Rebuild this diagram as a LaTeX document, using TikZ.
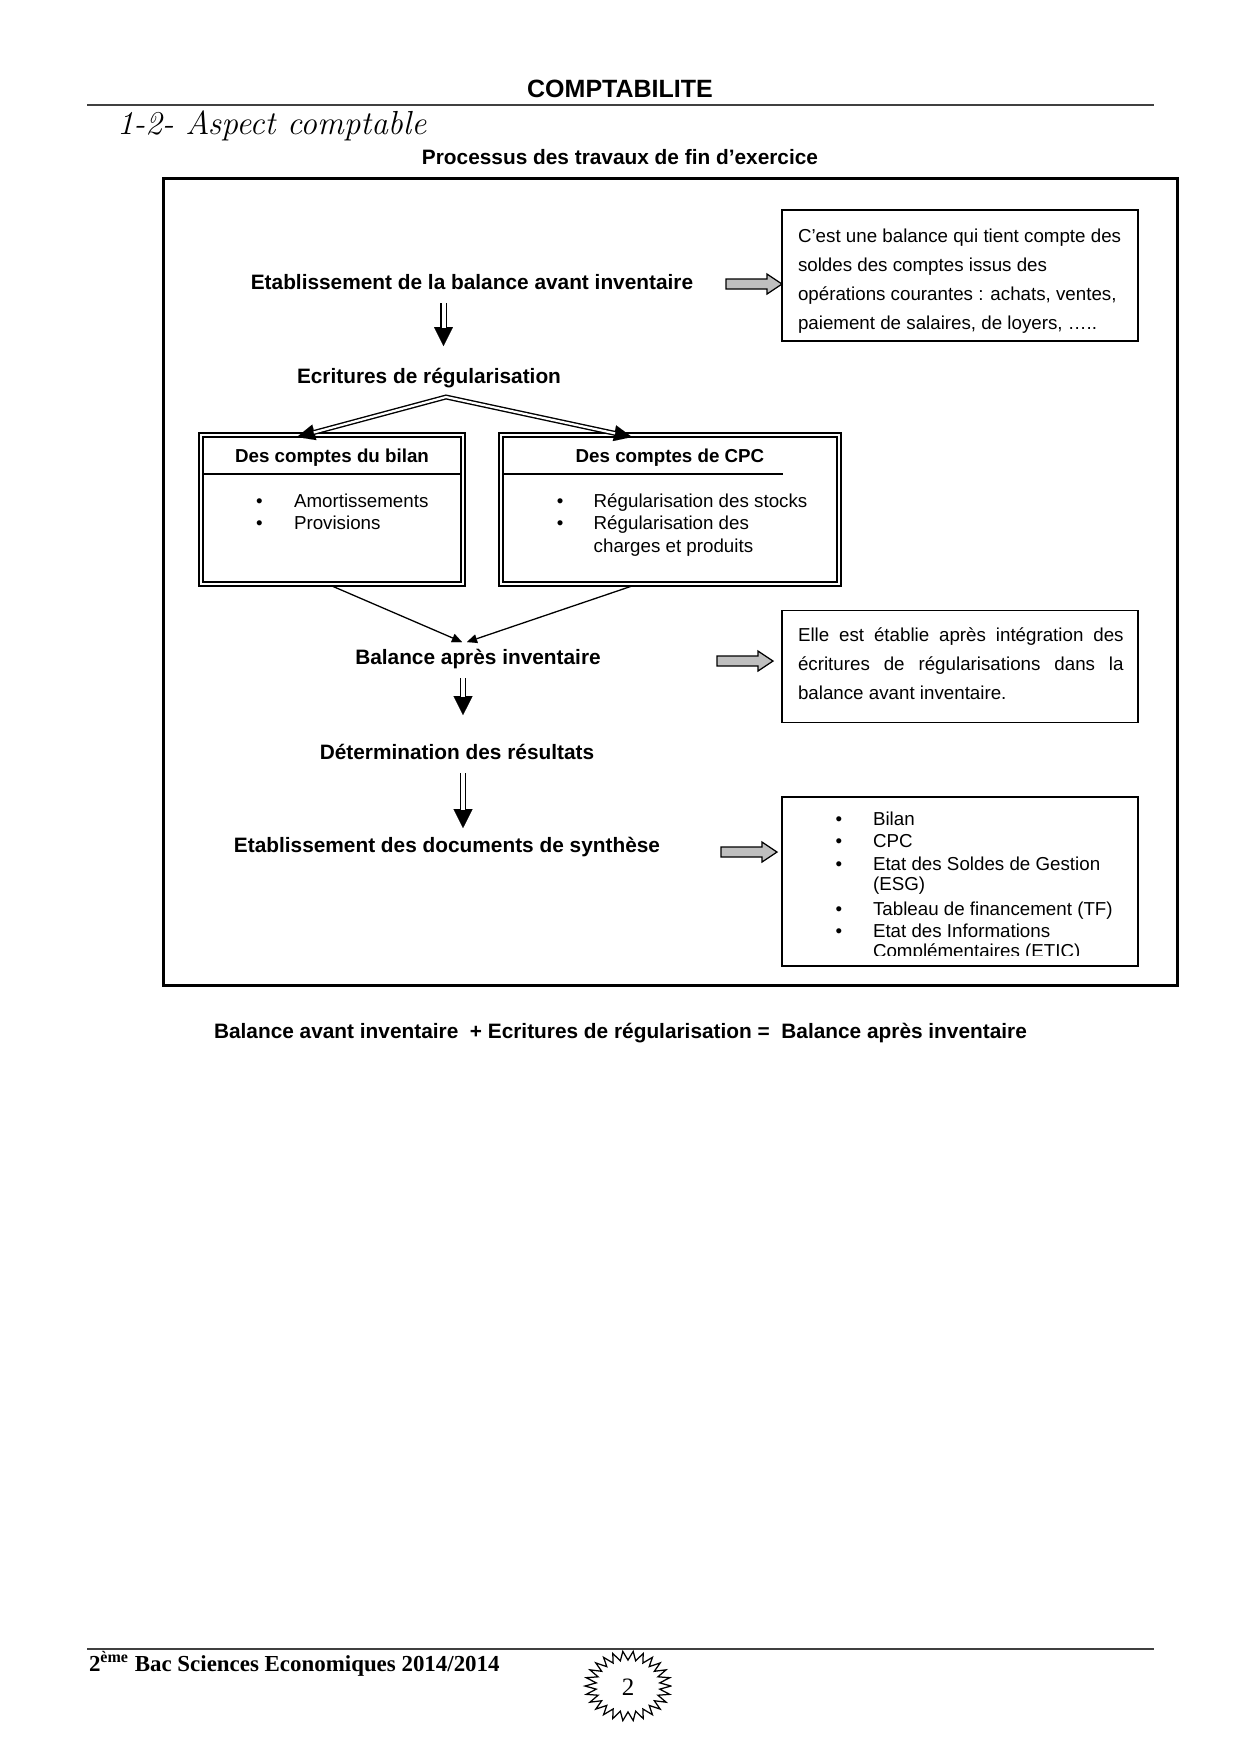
\documentclass[tikz,border=0pt]{standalone}
\usepackage{fontspec}
\usepackage{graphicx}
\newfontfamily\arial{Liberation Sans}
\newfontfamily\tnr{Liberation Serif}
\usetikzlibrary{arrows.meta,fit,calc}
\begin{document}
\begin{tikzpicture}[x=0.48pt,y=-0.48pt,
  every node/.style={inner sep=0pt,outer sep=0pt},
  lbl/.style={font=\arial\bfseries\fontsize{10}{12}\selectfont,anchor=base},
  hdr/.style={font=\arial\bfseries\fontsize{9}{11}\selectfont,anchor=base},
  txt/.style={font=\arial\fontsize{9}{11}\selectfont,anchor=base west},
  bul/.style={font=\arial\fontsize{9}{11}\selectfont,anchor=base},
  rulel/.style={line width=0.72pt,black!75},
  framebox/.style={draw,line width=1.44pt},
  notebox/.style={draw,line width=0.72pt},
  outerbox/.style={draw,line width=0.96pt},
  innerbox/.style={draw,line width=0.5pt},
  dstem/.style={line width=3.17pt,-{Triangle[length=9.1pt,width=9.1pt,line width=0.01pt]}},
  dstemwhite/.style={white,line width=1.92pt,shorten >=8.8pt},
  branch/.style={line width=2.4pt,line join=miter,{Triangle[length=8.6pt,width=7.7pt,line width=0.01pt]}-{Triangle[length=8.6pt,width=7.7pt,line width=0.01pt]}},
  branchwhite/.style={white,line width=1.06pt,line join=miter,shorten <=8.3pt,shorten >=8.3pt},
  thinarrow/.style={line width=0.62pt,-{Triangle[length=4.8pt,width=4.3pt,line width=0.01pt]}},
  garrow/.style={draw=black,line width=0.6pt,fill=black!25,line join=miter}
]
\useasboundingbox (0,0) rectangle (1240,1754);
\fill[white] (0,0) rectangle (1240,1754);

% ---------- header ----------
\node[font=\arial\bfseries\fontsize{12}{14}\selectfont,anchor=base] (title) at (620,97) {COMPTABILITE};
\draw[rulel] (87,105) -- (1154,105);
\node[font=\itshape\fontsize{16}{18}\selectfont,anchor=base west] (sec) at (117,134) {1-2- Aspect comptable};
\node[lbl] (proc) at (620,164) {Processus des travaux de fin d’exercice};

% ---------- frame ----------
\node[framebox,fit={(163,178) (1177,985)}] (frame) {};

% ---------- main labels ----------
\node[lbl] (bav) at (472,289) {Etablissement de la balance avant inventaire};
\node[lbl] (ecr) at (429,383) {Ecritures de régularisation};
\node[lbl] (bap) at (478,664) {Balance après inventaire};
\node[lbl] (det) at (457,759) {Détermination des résultats};
\node[lbl] (docs) at (447,852) {Etablissement des documents de synthèse};

% ---------- note boxes ----------
\node[notebox,fit={(782,210) (1138,341)}] (note1) {};
\node[txt] (n1a) at (798,242.5) {C’est une balance qui tient compte des};
\node[txt] (n1b) at (798,271.5) {soldes des comptes issus des};
\node[txt] (n1c) at (798,300.5) {opérations courantes : achats, ventes,};
\node[txt] (n1d) at (798,329.5) {paiement de salaires, de loyers, …..};

\node[notebox,fit={(782,610.5) (1138,722.5)}] (note2) {};
\node[txt] (n2a) at (798,641.5) {\makebox[156.3pt][s]{Elle est établie après intégration des}};
\node[txt] (n2b) at (798,670.5) {\makebox[156.3pt][s]{écritures de régularisations dans la}};
\node[txt] (n2c) at (798,699.5) {balance avant inventaire.};

\node[notebox,fit={(782,797) (1138,966)}] (note3) {};
\begin{scope}
\clip (783,798) rectangle (1137,955.5);
\node[bul] (b3a) at (839,825) {•};
\node[txt] (t3a) at (873,825) {Bilan};
\node[bul] (b3b) at (839,847.3) {•};
\node[txt] (t3b) at (873,847.3) {CPC};
\node[bul] (b3c) at (839,870.8) {•};
\node[txt] (t3c) at (873,870.8) {Etat des Soldes de Gestion};
\node[txt] (t3c2) at (873,890.9) {(ESG)};
\node[bul] (b3d) at (839,915.5) {•};
\node[txt] (t3d) at (873,915.5) {Tableau de financement (TF)};
\node[bul] (b3e) at (839,937) {•};
\node[txt] (t3e) at (873,937) {Etat des Informations};
\node[txt] (t3e2) at (873,957.5) {Complémentaires (ETIC)};
\end{scope}

% ---------- double-bordered boxes ----------
\node[outerbox,fit={(199,433) (465,586)}] (bil) {};
\node[innerbox,fit={(203,437) (461,582)}] (bilin) {};
\draw[line width=0.6pt] (bilin.west |- 0,474) -- (bilin.east |- 0,474);
\node[hdr] (bilh) at (332,462.5) {Des comptes du bilan};
\node[bul] (bb1) at (259.4,507.5) {•};
\node[txt] (bt1) at (294,507.5) {Amortissements};
\node[bul] (bb2) at (259.4,529.5) {•};
\node[txt] (bt2) at (294,529.5) {Provisions};

\node[outerbox,fit={(499,433) (841,586)}] (cpc) {};
\node[innerbox,fit={(503,437) (837,582)}] (cpcin) {};
\draw[line width=0.6pt] (cpcin.west |- 0,474) -- (783,474);
\node[hdr] (cpch) at (670,462.5) {Des comptes de CPC};
\node[bul] (cb1) at (560.2,507.5) {•};
\node[txt] (ct1) at (593.7,507.5) {Régularisation des stocks};
\node[bul] (cb2) at (560.2,529.5) {•};
\node[txt] (ct2) at (593.7,529.5) {Régularisation des};
\node[txt] (ct3) at (593.7,552) {charges et produits};

% ---------- connector coordinates ----------
\coordinate (a1s) at (443.5,303);
\coordinate (a1e) at (443.5,346);
\coordinate (a2s) at (463,678);
\coordinate (a2e) at (463,715);
\coordinate (a3s) at (463,773);
\coordinate (a3e) at (463,828);
\coordinate (apex) at (446,397);
\coordinate (tipBL) at (297,437);
\coordinate (tipBR) at (632,437);
\coordinate (tipL) at (462,642);
\coordinate (tipR) at (467,642);

% down double arrows
\draw[dstem] (a1s) -- (a1e);
\draw[dstemwhite] (a1s) -- (a1e);
\draw[dstem] (a2s) -- (a2e);
\draw[dstemwhite] (a2s) -- (a2e);
\draw[dstem] (a3s) -- (a3e);
\draw[dstemwhite] (a3s) -- (a3e);

% branching double arrow
\draw[branch] (tipBL) -- (apex) -- (tipBR);
\draw[branchwhite] (tipBL) -- (apex) -- (tipBR);

% converging thin arrows
\draw[thinarrow] (bil.south) -- (tipL);
\draw[thinarrow] ($(cpc.south west)!0.389!(cpc.south east)$) -- (tipR);

% gray block arrows
\coordinate (ga1) at (726,284);
\coordinate (ga2) at (717,661);
\coordinate (ga3) at (721,852);
\foreach \g in {ga1,ga2,ga3}{
  \draw[garrow] (\g) ++(0,-5) -- ++(41,0) -- ++(0,-5) -- ++(15,10) -- ++(-15,10) -- ++(0,-5) -- ++(-41,0) -- cycle;
}

% ---------- equation ----------
\node[lbl] (eq) at (620.5,1038) {Balance avant inventaire\ \ + Ecritures de régularisation =\ \ Balance après inventaire};

% ---------- footer ----------
\draw[rulel] (87,1649) -- (1154,1649);
\node[font=\tnr\bfseries\fontsize{11}{13}\selectfont,anchor=base west] (foot) at (89,1671) {2\textsuperscript{ème} Bac Sciences Economiques 2014/2014};
\begin{scope}[shift={(628,1686)},yscale=0.81]
\draw[line width=0.6pt,line join=miter] (0:43)
  \foreach \i in {0,...,25}{ -- ({(2*\i+1)*6.923}:32) -- ({(2*\i+2)*6.923}:43) } -- cycle;
\end{scope}
\node[font=\tnr\fontsize{12}{14}\selectfont] (pnum) at (628,1687) {2};
\end{tikzpicture}
\end{document}
